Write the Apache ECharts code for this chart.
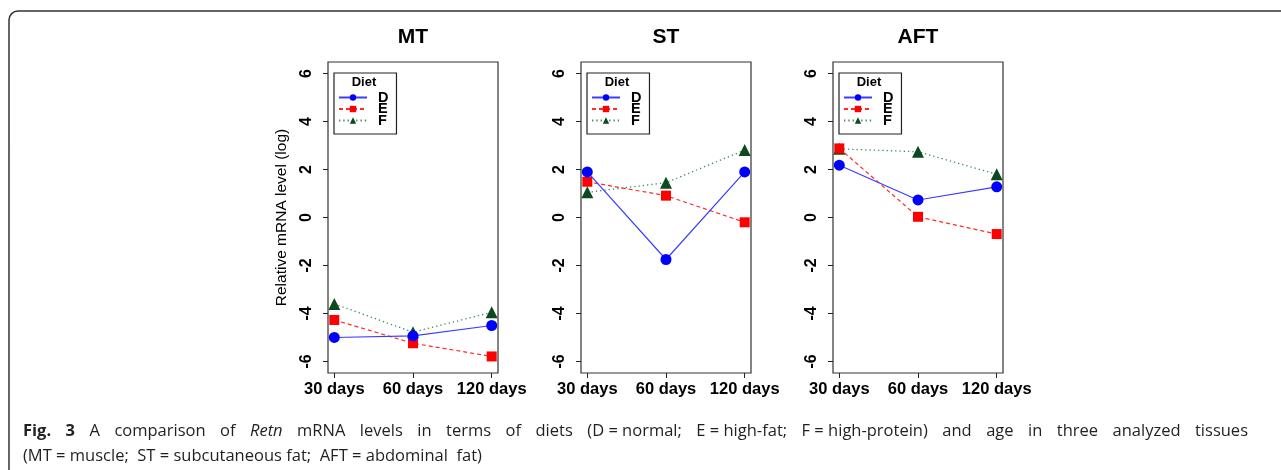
<!DOCTYPE html>
<html><head><meta charset="utf-8">
<script src="https://cdn.jsdelivr.net/npm/echarts@6/dist/echarts.min.js"></script>
<style>html,body{margin:0;padding:0;background:#fff}#c{width:1281px;height:470px}</style>
</head><body><div id="c"></div>
<script>
// ---- data ----
const days = ['30 days', '60 days', '120 days'];
const panels = ['MT', 'ST', 'AFT'];
const diets = ['D', 'E', 'F'];
const yTicks = [-6, -4, -2, 0, 2, 4, 6];
const MT_D = [-5.0, -4.93, -4.5];
const MT_E = [-4.27, -5.24, -5.79];
const MT_F = [-3.6, -4.78, -3.95];
const ST_D = [1.9, -1.75, 1.9];
const ST_E = [1.49, 0.91, -0.2];
const ST_F = [1.05, 1.45, 2.81];
const AFT_D = [2.18, 0.73, 1.28];
const AFT_E = [2.88, 0.03, -0.69];
const AFT_F = [2.86, 2.74, 1.8];
const yName = 'Relative mRNA level (log)';
const capWords1 = [['b','Fig.'],['b','3'],['n','A'],['n','comparison'],['n','of'],['i','Retn'],['n','mRNA'],['n','levels'],['n','in'],['n','terms'],['n','of'],['n','diets'],['n','(D = normal;'],['n','E = high-fat;'],['n','F = high-protein)'],['n','and'],['n','age'],['n','in'],['n','three'],['n','analyzed'],['n','tissues']];
const capLine2 = '(MT = muscle;  ST = subcutaneous fat;  AFT = abdominal  fat)';

const panelData = [[MT_D, MT_E, MT_F], [ST_D, ST_E, ST_F], [AFT_D, AFT_E, AFT_F]];

// ---- styles ----
const gridLefts = [328, 581, 833];
const gridTop = 62, gridW = 170, gridH = 311;
const dietStyle = {
  D: { symbol: 'circle', symbolSize: 11, color: '#0000ff', line: { color: '#3c3cff', width: 1.2, type: 'solid' } },
  E: { symbol: 'rect', symbolSize: 10, color: '#ff0000', line: { color: '#ff2a2a', width: 1.2, type: [4, 3] } },
  F: { symbol: 'triangle', symbolSize: 12, color: '#0b4a1f', line: { color: '#3f8a60', width: 1.3, type: [1.3, 3] } }
};
const FONT = '"Liberation Sans", Arial, Helvetica, sans-serif';

const grids = [], xAxes = [], yAxes = [], series = [], legends = [], graphics = [];
panels.forEach((p, i) => {
  grids.push({ left: gridLefts[i], top: gridTop, width: gridW, height: gridH, show: true,
    borderColor: '#333', borderWidth: 1.2, backgroundColor: 'transparent' });
  xAxes.push({ type: 'value', gridIndex: i, min: 0.92, max: 3.08, position: 'bottom',
    axisLine: { show: false, onZero: false }, splitLine: { show: false },
    axisTick: { show: true, length: 5, customValues: [1, 2, 3], lineStyle: { color: '#222' } },
    axisLabel: { customValues: [1, 2, 3], formatter: v => days[Math.round(v) - 1], margin: 8,
      fontFamily: FONT, fontWeight: 'bold', fontSize: 16.5, color: '#000' } });
  yAxes.push({ type: 'value', gridIndex: i, min: -6.48, max: 6.48, position: 'left',
    axisLine: { show: false, onZero: false }, splitLine: { show: false },
    axisTick: { show: true, length: 5, customValues: yTicks, lineStyle: { color: '#222' } },
    axisLabel: { customValues: yTicks, rotate: 90, margin: 13, fontFamily: FONT, fontWeight: 'bold', fontSize: 16, color: '#000' },
    name: i === 0 ? yName : '', nameLocation: 'middle', nameRotate: 90, nameGap: 38,
    nameTextStyle: { fontFamily: FONT, fontSize: 15.5, color: '#000' } });
  diets.forEach((d, k) => {
    const st = dietStyle[d];
    series.push({ type: 'line', name: d, xAxisIndex: i, yAxisIndex: i,
      data: panelData[i][k].map((v, j) => [j + 1, v]),
      symbol: st.symbol, symbolSize: st.symbolSize, showAllSymbol: true,
      itemStyle: { color: st.color }, lineStyle: st.line, z: 5 - k, animation: false });
  });
  legends.push({ data: diets, orient: 'vertical', left: gridLefts[i] + 6, top: 73,
    padding: [17, 8, 6, 4], itemWidth: 28, itemHeight: 8, itemGap: -3.5,
    borderColor: '#222', borderWidth: 1.2, selectedMode: false,
    textStyle: { fontFamily: FONT, fontWeight: 'bold', fontSize: 14.5, lineHeight: 11, color: '#000', padding: [0, 0, 0, 6] } });
  graphics.push({ type: 'text', style: { text: p, x: gridLefts[i] + gridW / 2, y: 37, textAlign: 'center', textVerticalAlign: 'middle',
    font: 'bold 21px ' + FONT, fill: '#000' } });
  graphics.push({ type: 'text', style: { text: 'Diet', x: gridLefts[i] + 36, y: 82, textAlign: 'center', textVerticalAlign: 'middle',
    font: 'bold 13px ' + FONT, fill: '#000' } });
});

// caption (line 1 justified)
const CAP = '"Open Sans", "Noto Sans", sans-serif';
const capSize = 16.5;
const fonts = { b: 'bold ' + capSize + 'px ' + CAP, i: 'italic ' + capSize + 'px ' + CAP, n: capSize + 'px ' + CAP };
const ctx = document.createElement('canvas').getContext('2d');
let sum = 0;
capWords1.forEach(([s, w]) => { ctx.font = fonts[s]; sum += ctx.measureText(w).width; });
const capX0 = 23, capX1 = 1248;
const gap = (capX1 - capX0 - sum) / (capWords1.length - 1);
const rich1 = capWords1.map(([s, w]) => '{' + s + '|' + w + '}').join('{s| }');
graphics.push({ type: 'text', style: { text: rich1, x: capX0, y: 431, textVerticalAlign: 'middle',
  rich: { b: { font: fonts.b, fill: '#231f20' }, i: { font: fonts.i, fill: '#231f20' }, n: { font: fonts.n, fill: '#231f20' },
    s: { width: gap, font: fonts.n } } } });
graphics.push({ type: 'text', style: { text: capLine2, x: capX0, y: 456, textVerticalAlign: 'middle', font: fonts.n, fill: '#231f20' } });
graphics.push({ type: 'rect', shape: { x: 9, y: 11, width: 1320, height: 520, r: 9 }, style: { fill: 'none', stroke: '#333', lineWidth: 1.5 }, silent: true });

const chart = echarts.init(document.getElementById('c'), null, { renderer: 'canvas' });
chart.setOption({ animation: false, backgroundColor: '#fff', grid: grids, xAxis: xAxes, yAxis: yAxes, series: series, legend: legends, graphic: graphics });
</script></body></html>
